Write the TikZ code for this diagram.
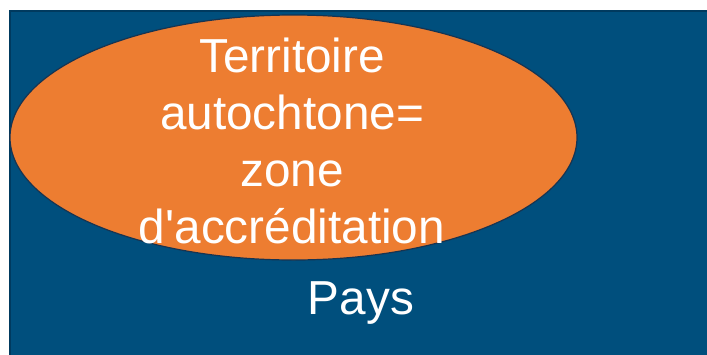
\documentclass[tikz,border=0pt]{standalone}
\usepackage{fontspec}
\setmainfont{Liberation Sans}
\usetikzlibrary{shapes.geometric,positioning}
\definecolor{paysblue}{RGB}{0,79,125}
\definecolor{paysedge}{RGB}{0,58,95}
\definecolor{zoneorange}{RGB}{237,125,49}
\definecolor{zoneedge}{RGB}{22,52,82}

\begin{document}
\begin{tikzpicture}[x=1pt, y=-1pt, pays/.style={rectangle, draw=paysedge, line width=2pt, fill=paysblue}, zone/.style={ellipse, draw=zoneedge, line width=1.2pt, fill=zoneorange, minimum width=567pt, minimum height=245pt, inner sep=0pt}, bigtext/.style={text=white, font=\fontsize{47.7}{57}\selectfont, align=center}]
    \useasboundingbox (0,0) rectangle (707,354);
    \fill[white] (0,0) rectangle (707,354);

    \draw[pays] (10,11) rectangle (712,360);
    \node[zone] (zone) at (293.5,137.5) {};
    \node[bigtext] (zonetext) at (292,141) {Territoire\\autochtone=\\zone\\d\textquotesingle accréditation};
    \node[bigtext] (pays) at (361,303) {Pays};
\end{tikzpicture}
\end{document}
